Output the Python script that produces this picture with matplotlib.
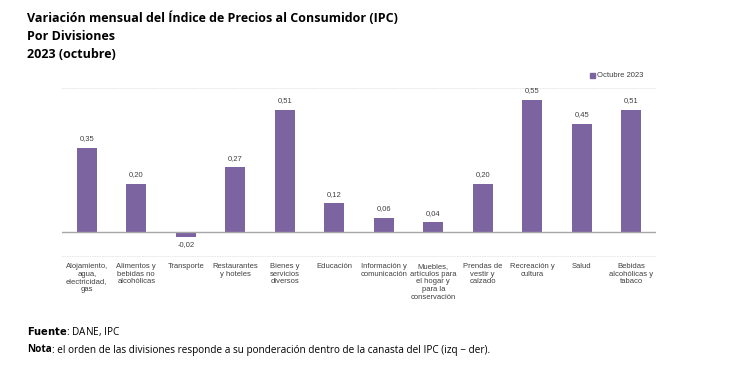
import matplotlib
matplotlib.use("Agg")
import matplotlib.pyplot as plt
from matplotlib.patches import Rectangle

categories = ["Alojamiento,\nagua,\nelectricidad,\ngas",
              "Alimentos y\nbebidas no\nalcohólicas",
              "Transporte",
              "Restaurantes\ny hoteles",
              "Bienes y\nservicios\ndiversos",
              "Educación",
              "Información y\ncomunicación",
              "Muebles,\nartículos para\nel hogar y\npara la\nconservación",
              "Prendas de\nvestir y\ncalzado",
              "Recreación y\ncultura",
              "Salud",
              "Bebidas\nalcohólicas y\ntabaco"]
values = [0.35, 0.20, -0.02, 0.27, 0.51, 0.12, 0.06, 0.04, 0.20, 0.55, 0.45, 0.51]
series_name = "Octubre 2023"

title_lines = ["Variación mensual del Índice de Precios al Consumidor (IPC)",
               "Por Divisiones", "2023 (octubre)"]

bar_color = "#7B64A0"
txt_color = "#404040"
fs = 5.5
W, H = 736, 373
fig = plt.figure(figsize=(W/100, H/100), dpi=100)
ax = fig.add_axes([62/W, 1-256/H, (656-62)/W, (256-88)/H])

x = list(range(len(values)))
ax.bar(x, values, width=0.41, color=bar_color, zorder=2)
ax.set_xlim(-0.5, len(values)-0.5)
ax.set_ylim(-0.1, 0.6)
ax.axhline(0, color="#A6A6A6", lw=1.0, zorder=3)

for xi, v in zip(x, values):
    lbl = f"{v:.2f}".replace(".", ",")
    if v >= 0:
        ax.annotate(lbl, (xi, v), xytext=(0, 4), textcoords="offset points",
                    ha="center", va="bottom", fontsize=fs, family="Liberation Sans", color=txt_color)
    else:
        ax.annotate(lbl, (xi, v), xytext=(0, -3), textcoords="offset points",
                    ha="center", va="top", fontsize=fs, family="Liberation Sans", color=txt_color)

ax.set_yticks([])
ax.set_xticks(x)
ax.set_xticklabels(categories, fontsize=fs, family="Liberation Sans", color=txt_color, linespacing=1.15)
ax.tick_params(axis="x", length=0, pad=5)
for s in ["left", "right"]:
    ax.spines[s].set_visible(False)
for s in ["top", "bottom"]:
    ax.spines[s].set_color("#E3E3E3")
    ax.spines[s].set_linestyle((0, (1, 2)))
    ax.spines[s].set_linewidth(0.6)

# legend
fig.patches.append(Rectangle((590/W, 1-78/H), 5/W, 5/H, transform=fig.transFigure,
                             color=bar_color, figure=fig))
fig.text(597/W, 1-75.5/H, series_name, fontsize=fs, family="Liberation Sans",
         color=txt_color, va="center", ha="left")

for i, t in enumerate(title_lines):
    fig.text(27/W, 1-(18+i*18.5)/H, t, fontsize=9.0, fontweight="bold",
             family="Open Sans", va="center", ha="left", color="black")

fig.text(27/W, 1-332/H, r"$\bf{Fuente}$: DANE, IPC", fontsize=7.2, family="Open Sans",
         va="center", ha="left")
t1 = fig.text(27/W, 1-350/H, "Nota", fontsize=7.2, family="Open Sans", fontweight="bold",
              va="center", ha="left")
fig.canvas.draw()
bb = t1.get_window_extent()
fig.text(bb.x1/W, 1-350/H, ": el orden de las divisiones responde a su ponderación dentro de la canasta del IPC (izq − der).",
         fontsize=7.2, family="Open Sans", va="center", ha="left")

fig.savefig("out.png", dpi=100)
